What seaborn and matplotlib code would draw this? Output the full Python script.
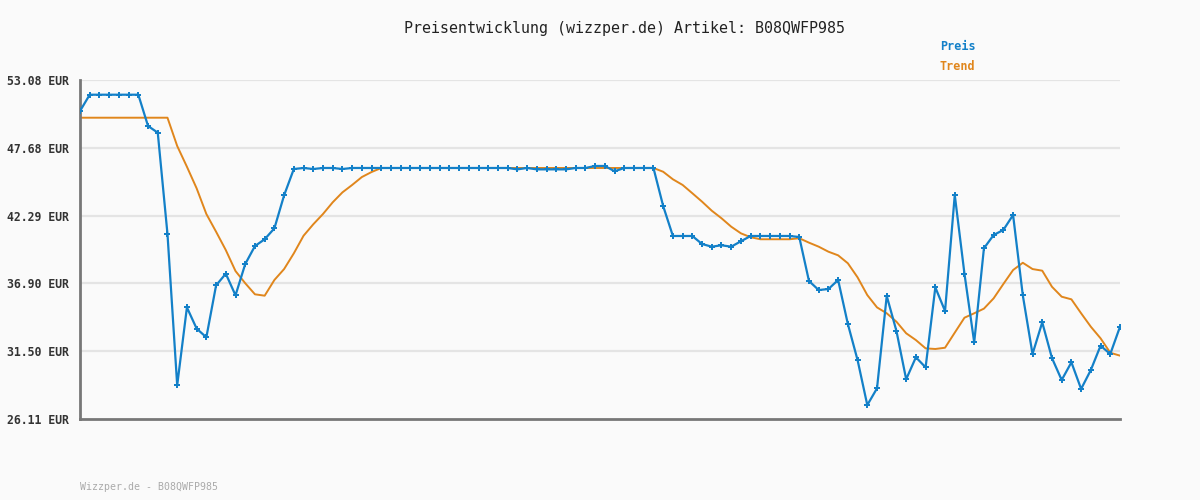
import pandas as pd
import numpy as np
import seaborn as sns
import matplotlib.pyplot as plt

# Preisverlauf
preis = [50.61, 51.91, 51.91, 51.91, 51.91, 51.91, 51.91, 49.42, 48.89, 40.83,
         28.79, 34.99, 33.30, 32.61, 36.74, 37.67, 35.95, 38.44, 39.87, 40.41,
         41.28, 43.91, 46.00, 46.08, 46.00, 46.08, 46.08, 46.00, 46.08, 46.08,
         46.08, 46.08, 46.08, 46.08, 46.08, 46.08, 46.08, 46.08, 46.08, 46.08,
         46.08, 46.08, 46.08, 46.08, 46.08, 45.97, 46.08, 45.97, 45.97, 45.97,
         45.97, 46.08, 46.08, 46.24, 46.24, 45.82, 46.08, 46.08, 46.08, 46.08,
         43.05, 40.67, 40.67, 40.67, 40.03, 39.82, 39.93, 39.82, 40.25, 40.67,
         40.67, 40.67, 40.67, 40.67, 40.59, 37.09, 36.37, 36.45, 37.17, 33.67,
         30.80, 27.22, 28.55, 35.90, 33.11, 29.27, 31.02, 30.22, 36.58, 34.70,
         43.93, 37.65, 32.21, 39.69, 40.75, 41.15, 42.34, 35.95, 31.28, 33.80,
         30.96, 29.21, 30.62, 28.50, 30.01, 31.94, 31.28, 33.45]

trend = [50.08, 50.08, 50.08, 50.08, 50.08, 50.08, 50.08, 50.08, 50.08, 50.08,
         47.83, 46.18, 44.46, 42.42, 41.01, 39.55, 37.88, 36.91, 36.03, 35.92,
         37.17, 38.04, 39.29, 40.69, 41.60, 42.42, 43.35, 44.14, 44.73, 45.36,
         45.76, 46.08, 46.08, 46.08, 46.08, 46.08, 46.08, 46.08, 46.08, 46.08,
         46.08, 46.08, 46.08, 46.08, 46.08, 46.08, 46.08, 46.08, 46.08, 46.08,
         46.08, 46.08, 46.08, 46.08, 46.08, 46.08, 46.08, 46.08, 46.08, 46.08,
         45.78, 45.18, 44.73, 44.07, 43.40, 42.68, 42.08, 41.41, 40.88, 40.57,
         40.41, 40.41, 40.41, 40.41, 40.49, 40.14, 39.82, 39.42, 39.13, 38.50,
         37.38, 35.97, 34.99, 34.52, 33.85, 32.93, 32.39, 31.73, 31.68, 31.78,
         32.98, 34.17, 34.52, 34.89, 35.71, 36.85, 37.96, 38.54, 38.04, 37.91,
         36.63, 35.84, 35.63, 34.52, 33.45, 32.53, 31.38, 31.15]

y_ticks = [26.11, 31.50, 36.90, 42.29, 47.68, 53.08]
titel = "Preisentwicklung (wizzper.de) Artikel: B08QWFP985"
fusszeile = "Wizzper.de - B08QWFP985"

blau = "#1380c8"
orange = "#e0861c"

df = pd.DataFrame({"tag": np.arange(len(preis)), "Preis": preis, "Trend": trend})

sns.set_style("white", {"axes.facecolor": "#fafafa", "figure.facecolor": "#fafafa"})
plt.rcParams["font.family"] = ["DejaVu Sans Mono"]

fig = plt.figure(figsize=(12, 5), dpi=100)
ax = fig.add_axes([80 / 1200, 81 / 500, 1040 / 1200, 339 / 500])

ax.grid(False)
for t in y_ticks[1:]:
    ax.axhline(t, color="#e4e4e4", lw=1.6, zorder=0)

sns.lineplot(x="tag", y="Trend", data=df, color=orange, lw=1.4, ax=ax, zorder=2)
sns.lineplot(x="tag", y="Preis", data=df, color=blau, lw=1.6, marker="P",
             markersize=4.5, markeredgewidth=0, ax=ax, zorder=3)

ax.set_xlim(0, len(preis) - 1)
ax.set_ylim(26.11, 53.08)
ax.set_xticks([])
ax.set_yticks(y_ticks)
ax.set_yticklabels([f"{t:.2f} EUR" for t in y_ticks], fontsize=8.3,
                   fontweight="bold", color="#333333")
ax.tick_params(axis="y", length=0, pad=8)
ax.set_xlabel("")
ax.set_ylabel("")

for s in ["top", "right"]:
    ax.spines[s].set_visible(False)
for s in ["left", "bottom"]:
    ax.spines[s].set_color("#777777")
    ax.spines[s].set_linewidth(2)

fig.text(624 / 1200, 1 - 28 / 500, titel, ha="center", va="center",
         fontsize=10.8, color="#222222")
fig.text(940 / 1200, 1 - 47 / 500, "Preis", ha="left", va="center",
         fontsize=8.5, fontweight="bold", color=blau)
fig.text(940 / 1200, 1 - 67 / 500, "Trend", ha="left", va="center",
         fontsize=8.5, fontweight="bold", color=orange)
fig.text(80 / 1200, 1 - 487 / 500, fusszeile, ha="left", va="center",
         fontsize=7.1, color="#aaaaaa")

plt.savefig("out.png", dpi=100, facecolor=fig.get_facecolor())
